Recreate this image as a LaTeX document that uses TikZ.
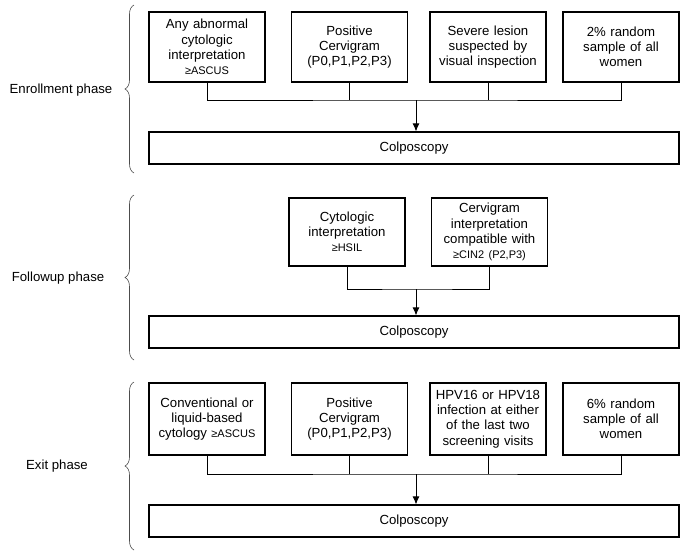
\documentclass[tikz,border=0pt]{standalone}
\usepackage{fontspec}
\setmainfont{Liberation Sans}
\usepackage{tikz}
\usetikzlibrary{arrows.meta,decorations.pathreplacing}
\tikzstyle{cbox} = [draw, line width=1.1pt, minimum width=116pt, minimum height=70pt,
    text width=114pt, inner sep=0pt, align=center]
\tikzstyle{colbox} = [draw, line width=1.1pt, minimum width=530pt, minimum height=32pt, inner sep=0pt]
\tikzstyle{link} = [line width=1pt]
\tikzstyle{feed} = [line width=1pt, -{Latex[length=8pt,width=7pt]}]
\tikzstyle{phasebrace} = [decorate, decoration={brace, amplitude=9pt}, line width=0.6pt, black!70]
\newcommand{\smallgeq}[1]{{\fontsize{11}{15}\selectfont ≥#1}}
\newcommand{\stem}[2]{
	\draw[link] (#1.south) -- (#1.south |- #2);
}

\begin{document}
\begin{tikzpicture}[x=1pt, y=-1pt, font=\fontsize{13.2}{15.2}\selectfont]
	\useasboundingbox (0,0) rectangle (689,558);

	\node(enroll) at (61,90) {Enrollment phase};
	\coordinate(eblow) at (134,173);
	\coordinate(ebhigh) at (134,5);
	\draw[phasebrace] (eblow) -- (ebhigh);

	\node(e1) at (207,47) [cbox] {Any abnormal\\cytologic\\interpretation\\\smallgeq{ASCUS}};
	\node(e2) at (349.5,47) [cbox] {Positive\\Cervigram\\(P0,P1,P2,P3)};
	\node(e3) at (488,47) [cbox] {Severe lesion\\suspected by\\visual inspection};
	\node(e4) at (621,47) [cbox] {2\% random\\sample of all\\women};
	\node(ecol) at (414,148) [colbox] {Colposcopy};
	\coordinate(ejoin) at (416,100);
	\draw[link] (e1.south) |- (ejoin) -| (e4.south);
	\stem{e2}{ejoin};
	\stem{e3}{ejoin};
	\draw[feed] (ejoin) -- (ejoin |- ecol.north);

	\node(follow) at (58,278) {Followup phase};
	\coordinate(fblow) at (134,360);
	\coordinate(fbhigh) at (134,195);
	\draw[phasebrace] (fblow) -- (fbhigh);

	\node(f1) at (347,232) [cbox, minimum height=68pt] {Cytologic\\interpretation\\\smallgeq{HSIL}};
	\node(f2) at (489.5,232) [cbox, minimum height=68pt] {Cervigram\\interpretation\\compatible with\\\smallgeq{CIN2 (P2,P3)}};
	\node(fcol) at (414,332) [colbox] {Colposcopy};
	\coordinate(fjoin) at (416,289);
	\draw[link] (f1.south) |- (fjoin) -| (f2.south);
	\draw[feed] (fjoin) -- (fjoin |- fcol.north);

	\node(exit) at (57,466) {Exit phase};
	\coordinate(xblow) at (134,550);
	\coordinate(xbhigh) at (134,382);
	\draw[phasebrace] (xblow) -- (xbhigh);

	\node(x1) at (207,419) [cbox, minimum height=72pt] {Conventional or\\liquid-based\\cytology \smallgeq{ASCUS}};
	\node(x2) at (349.5,419) [cbox, minimum height=72pt] {Positive\\Cervigram\\(P0,P1,P2,P3)};
	\node(x3) at (488,419) [cbox, minimum height=72pt] {HPV16 or HPV18\\infection at either\\of the last two\\screening visits};
	\node(x4) at (621,419) [cbox, minimum height=72pt] {6\% random\\sample of all\\women};
	\node(xcol) at (414,521) [colbox] {Colposcopy};
	\coordinate(xjoin) at (416,474);
	\draw[link] (x1.south) |- (xjoin) -| (x4.south);
	\stem{x2}{xjoin};
	\stem{x3}{xjoin};
	\draw[feed] (xjoin) -- (xjoin |- xcol.north);
\end{tikzpicture}
\end{document}
